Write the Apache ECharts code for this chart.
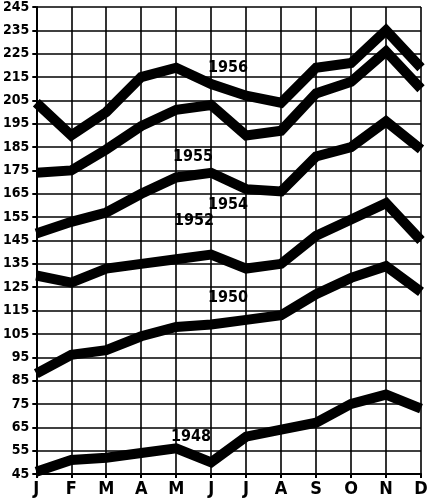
<!DOCTYPE html>
<html>
<head>
<meta charset="utf-8">
<script src="https://cdn.jsdelivr.net/npm/echarts@6/dist/echarts.min.js"></script>
<style>
  html, body { margin: 0; padding: 0; background: #fff; }
</style>
</head>
<body>
<div id="chart" style="width: 433px; height: 500px;"></div>
<script>
// months along the bottom
const months = ['J', 'F', 'M', 'A', 'M', 'J', 'J', 'A', 'S', 'O', 'N', 'D'];

// one line per year
const y1956 = [204, 190, 200, 215, 219, 212, 207, 204, 219, 221, 235, 219];
const y1955 = [174, 175, 184, 194, 201, 203, 190, 192, 208, 213, 226, 210];
const y1954 = [148, 153, 157, 165, 172, 174, 167, 166, 181, 185, 196, 184];
const y1952 = [130, 127, 133, 135, 137, 139, 133, 135, 147, 154, 161, 145];
const y1950 = [88, 96, 98, 104, 108, 109, 111, 113, 122, 129, 134, 123];
const y1948 = [46, 51, 52, 54, 56, 50, 61, 64, 67, 75, 79, 73];

const years = ['1956', '1955', '1954', '1952', '1950', '1948'];
const yearData = [y1956, y1955, y1954, y1952, y1950, y1948];

const font = '"Liberation Sans Narrow", "DejaVu Sans Condensed", "Liberation Sans", sans-serif';

const chart = echarts.init(document.getElementById('chart'));

// where each year label sits
const labelPos = [
  [228, 68], [193, 157], [228, 205], [194, 221], [228, 298], [191, 437]
];

const option = {
  animation: false,
  backgroundColor: '#fff',
  grid: { left: 36, right: 12, top: 7, bottom: 26 },
  xAxis: {
    type: 'category',
    data: months,
    boundaryGap: false,
    axisLine: { lineStyle: { color: '#000', width: 2 } },
    axisTick: { show: true, length: 4, lineStyle: { color: '#000', width: 2 } },
    axisLabel: {
      color: '#000', fontFamily: font, fontWeight: 'bold', fontSize: 18,
      margin: 6, interval: 0
    },
    splitLine: { show: true, lineStyle: { color: '#000', width: 1.6 } }
  },
  yAxis: {
    type: 'value',
    min: 45,
    max: 245,
    interval: 10,
    axisLine: { show: true, lineStyle: { color: '#000', width: 2 } },
    axisTick: { show: true, length: 4, lineStyle: { color: '#000', width: 2 } },
    axisLabel: {
      color: '#000', fontFamily: font, fontWeight: 'bold', fontSize: 14,
      margin: 7
    },
    splitLine: { show: true, lineStyle: { color: '#000', width: 1.6 } }
  },
  graphic: years.map((y, i) => ({
    type: 'text',
    x: labelPos[i][0],
    y: labelPos[i][1],
    style: {
      text: y,
      fill: '#000',
      font: 'bold 16px ' + font,
      align: 'center',
      verticalAlign: 'middle'
    }
  })),
  series: yearData.map((d, i) => ({
    name: years[i],
    type: 'line',
    data: d,
    symbol: 'none',
    smooth: false,
    lineStyle: { color: '#000', width: 10, join: 'miter', cap: 'butt' }
  }))
};

chart.setOption(option);
</script>
</body>
</html>
